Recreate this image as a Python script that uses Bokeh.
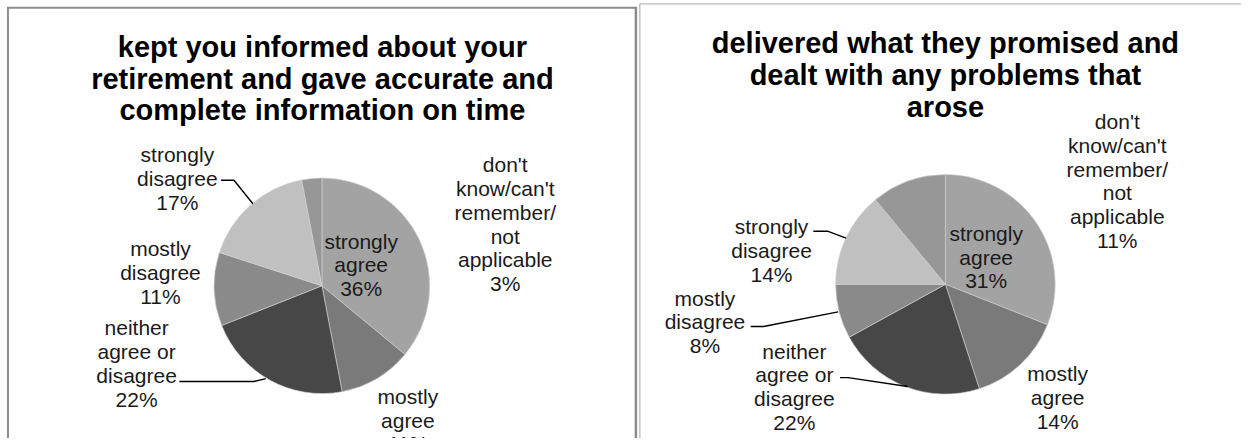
import math
from bokeh.plotting import figure
from bokeh.models import Range1d, ColumnDataSource
from bokeh.core.properties import value
from bokeh.embed import file_html
from bokeh.resources import INLINE

# ---------------- data ----------------
categories = ["strongly agree", "mostly agree", "neither agree or disagree",
              "mostly disagree", "strongly disagree",
              "don't know/can't remember/not applicable"]
label_lines = ["strongly\nagree", "mostly\nagree", "neither\nagree or\ndisagree",
               "mostly\ndisagree", "strongly\ndisagree",
               "don't\nknow/can't\nremember/\nnot\napplicable"]
left_values = [36, 11, 22, 11, 17, 3]
right_values = [31, 14, 22, 8, 14, 11]
left_title = "kept you informed about your\nretirement and gave accurate and\ncomplete information on time"
right_title = "delivered what they promised and\ndealt with any problems that\narose"
slice_colors = ["#a3a3a3", "#7a7a7a", "#474747", "#8a8a8a", "#c0c0c0", "#979797"]

# ---------------- layout (reference pixels) ----------------
W, H = 1241, 438
FONT = "Liberation Sans"
LBL_SIZE = "21px"
LBL_STEP = 24.3
TTL_SIZE = "29px"
TTL_STEP = 32.5


def Y(sy):
    return 446 - sy


p = figure(width=W, height=H, x_range=Range1d(0, 1249), y_range=Range1d(0, 446),
           output_backend="svg", toolbar_location=None, min_border=0,
           x_axis_location=None, y_axis_location=None)
p.grid.visible = False
p.outline_line_color = None
p.background_fill_color = "white"
p.border_fill_color = "white"

# panel frames
p.line([7.5, 7.5], [Y(446), Y(6.5)], line_color="#8c8c8c", line_width=2)
p.line([6.5, 640.5], [Y(7.5), Y(7.5)], line_color="#8c8c8c", line_width=2)
p.line([639.5, 639.5], [Y(6.5), Y(446)], line_color="#8c8c8c", line_width=2.5)
p.line([643.5, 643.5], [Y(3.5), Y(446)], line_color="#a6a6a6", line_width=1)
p.line([643, 1249], [Y(3.5), Y(3.5)], line_color="#a6a6a6", line_width=1)


def draw_pie(values, cx, cy, r):
    total = float(sum(values))
    starts, ends = [], []
    acc = 0.0
    for v in values:
        starts.append(math.pi / 2 - 2 * math.pi * acc / total)
        acc += v
        ends.append(math.pi / 2 - 2 * math.pi * acc / total)
    src = ColumnDataSource(dict(x=[cx] * len(values), y=[Y(cy)] * len(values),
                                start=starts, end=ends, color=slice_colors,
                                cat=categories))
    p.wedge(x="x", y="y", radius=r, start_angle="start", end_angle="end",
            direction="clock", fill_color="color", line_color="#d4d4d4",
            line_width=0.6, source=src)


def draw_labels(values, positions):
    xs, ys, ts = [], [], []
    for lab, v, (lx, ly) in zip(label_lines, values, positions):
        lines = lab.split("\n") + [f"{v}%"]
        for i, t in enumerate(lines):
            xs.append(lx)
            ys.append(Y(ly + i * LBL_STEP))
            ts.append(t)
    p.text(x=xs, y=ys, text=ts, text_font=value(FONT), text_font_size=LBL_SIZE,
           text_align="center", text_baseline="middle", text_color="#1a1a1a")


def draw_title(title, cx, y0):
    lines = title.split("\n")
    p.text(x=[cx] * len(lines), y=[Y(y0 + i * TTL_STEP) for i in range(len(lines))],
           text=lines, text_font=value(FONT), text_font_size=TTL_SIZE,
           text_font_style="bold", text_align="center", text_baseline="middle",
           text_color="#000000")


def leader(pts):
    p.line([a for a, b in pts], [Y(b) for a, b in pts], line_color="#000000",
           line_width=1.4)


# ---------- left panel ----------
draw_title(left_title, 324, 47)
draw_pie(left_values, 323.5, 290.5, 108.5)
draw_labels(left_values, [(363, 245), (410, 403), (137, 333), (161, 253),
                          (178, 157), (508, 167)])
leader([(222, 183), (235, 183), (254, 207)])
leader([(180, 388), (255, 388), (267, 385)])

# ---------- right panel ----------
draw_title(right_title, 951, 43)
draw_pie(right_values, 951, 289, 110.5)
draw_labels(right_values, [(992, 237), (1064, 380), (799, 357), (709, 303),
                           (776, 230), (1124, 123)])
leader([(818, 235), (833, 235), (851, 242)])
leader([(755, 332), (768, 332), (843, 317)])
leader([(845, 384), (853, 384), (913, 393)])

open("out.html", "w").write(file_html(p, INLINE))
